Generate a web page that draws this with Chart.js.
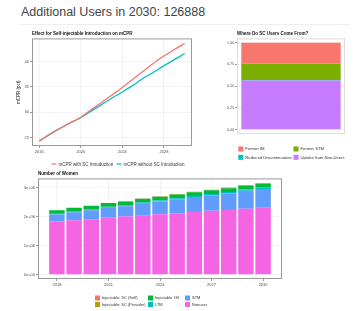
<!DOCTYPE html>
<html>
<head>
<meta charset="utf-8">
<script src="https://cdn.jsdelivr.net/npm/chart.js@4.4.1/dist/chart.umd.min.js"></script>
<style>
  body { margin: 0; width: 360px; height: 311px; background: #fff; position: relative; overflow: hidden;
         font-family: "Liberation Sans", Arial, sans-serif; }
  h3 { position: absolute; left: 21px; top: 5px; margin: 0; font-size: 12.5px; font-weight: normal; color: #444; }
  hr { position: absolute; left: 20px; top: 24px; width: 330px; margin: 0; border: 0; border-top: 1px solid #eee; }
  canvas { position: absolute; }
</style>
</head>
<body>
<h3>Additional Users in 2030: 126888</h3>
<hr>
<canvas id="mcpr" width="184" height="145" style="left:16px; top:26px;"></canvas>
<canvas id="sources" width="130" height="140" style="left:222px; top:26px;"></canvas>
<canvas id="women" width="280" height="143" style="left:15px; top:168px;"></canvas>
<script>
// mCPR chart
const years = [2016, 2017, 2018, 2019, 2020, 2021, 2022, 2023, 2024, 2025, 2026, 2027, 2028, 2029, 2030];
const mcprWithSC = [24.3, 25.6, 26.8, 27.9, 29.0, 30.5, 31.9, 33.4, 34.9, 36.5, 38.1, 39.7, 41.1, 42.4, 43.6];
const mcprWithoutSC = [24.3, 25.6, 26.8, 27.9, 28.9, 30.2, 31.5, 32.8, 34.0, 35.3, 36.7, 37.9, 39.2, 40.4, 41.6];
const mcprXTicks = [2016, 2020, 2024, 2028];
const mcprYTicks = [25, 30, 35, 40];

// where do SC users come from (stacked bottom to top)
const sourceLabels = ["Uptake from Non-Users", "Reduced Discontinuation", "Former STM", "Former IM"];
const sourceShares = [0.566, 0.004, 0.19, 0.24];
const shareTicks = [0, 0.25, 0.5, 0.75, 1];
const shareTickLabels = ["0.00", "0.25", "0.50", "0.75", "1.00"];

// number of women (stacked bottom to top)
const womenYears = [2018, 2019, 2020, 2021, 2022, 2023, 2024, 2025, 2026, 2027, 2028, 2029, 2030];
const nonUsers = [1830000, 1870000, 1910000, 1960000, 2000000, 2030000, 2080000, 2110000, 2160000, 2200000, 2230000, 2270000, 2300000];
const stmUsers = [240000, 280000, 310000, 347000, 359000, 416000, 443000, 485000, 512000, 539000, 571000, 618000, 655000];
const ltmUsers = [30000, 30000, 30000, 30000, 35000, 35000, 35000, 40000, 40000, 40000, 45000, 45000, 45000];
const imUsers = [120000, 120000, 120000, 130000, 130000, 130000, 130000, 130000, 130000, 130000, 130000, 130000, 130000];
const scProviderUsers = [0, 0, 0, 2000, 4000, 6000, 8000, 10000, 12000, 14000, 16000, 18000, 20000];
const scSelfUsers = [0, 0, 0, 1000, 2000, 3000, 4000, 5000, 6000, 7000, 8000, 9000, 10000];
const womenLabels = ["Nonuser", "STM", "LTM", "Injectable: IM", "Injectable: SC (Provider)", "Injectable: SC (Self)"];
const womenXTicks = [2018, 2021, 2024, 2027, 2030];
const womenYTicks = [0, 1000000, 2000000, 3000000];
const womenYTickLabels = ["0e+00", "1e+06", "2e+06", "3e+06"];

const FONT = "'Liberation Sans', Arial, sans-serif";
Chart.defaults.font.family = FONT;
Chart.defaults.animation = false;

// grey border round the plot panel, like ggplot
const panelFrame = {
    id: "panelFrame",
    afterDraw(chart, args, o) {
        const a = chart.chartArea, ctx = chart.ctx;
        ctx.save();
        ctx.strokeStyle = o.color;
        ctx.lineWidth = 1;
        ctx.strokeRect(a.left + 0.5, a.top + 0.5, a.right - a.left - 1, a.bottom - a.top - 1);
        ctx.restore();
    }
};

// legend laid out in a fixed grid below the panel
const gridLegend = {
    id: "gridLegend",
    afterDraw(chart, args, o) {
        const ctx = chart.ctx;
        let sets = chart.data.datasets.slice();
        if (o.reverse) sets.reverse();
        ctx.save();
        ctx.font = o.size + "px " + FONT;
        ctx.textBaseline = "middle";
        sets.forEach((ds, i) => {
            const col = o.byRow ? i % o.cols : Math.floor(i / o.rows);
            const row = o.byRow ? Math.floor(i / o.cols) : i % o.rows;
            const x = o.colX[col];
            const y = o.y + row * o.rowH;
            if (o.line) {
                ctx.strokeStyle = ds.borderColor;
                ctx.lineWidth = 1.2;
                ctx.beginPath();
                ctx.moveTo(x, y);
                ctx.lineTo(x + o.box, y);
                ctx.stroke();
            } else {
                ctx.fillStyle = ds.backgroundColor;
                ctx.fillRect(x, y - o.box / 2, o.box, o.box);
            }
            ctx.fillStyle = "#333";
            ctx.fillText(ds.label, x + o.box + 2, y + 0.3);
        });
        ctx.restore();
    }
};

function fixedTicks(values) {
    return scale => { scale.ticks = values.map(v => ({ value: v })); };
}

function titleOpts(text) {
    return {
        display: true, text: text, align: "start", fullSize: false, color: "#111",
        font: { size: 4.5 }, padding: { top: 5, bottom: 2 }
    };
}

const tickFont = { size: 4 };
const gridStyle = { color: "#ebebeb", lineWidth: 0.6, tickLength: 2, tickColor: "#555", offset: false };

new Chart(document.getElementById("mcpr"), {
    type: "line",
    data: {
        datasets: [
            { label: "mCPR with SC Introduction", data: years.map((y, i) => ({ x: y, y: mcprWithSC[i] })),
              borderColor: "#F8766D", borderWidth: 1.3, pointRadius: 0, tension: 0.2 },
            { label: "mCPR without SC Introduction", data: years.map((y, i) => ({ x: y, y: mcprWithoutSC[i] })),
              borderColor: "#00BFC4", borderWidth: 1.3, pointRadius: 0, tension: 0.2 }
        ]
    },
    options: {
        responsive: false,
        layout: { padding: { right: 8, bottom: 15 } },
        scales: {
            x: {
                type: "linear", min: 2015.3, max: 2030.7,
                afterBuildTicks: fixedTicks(mcprXTicks),
                afterFit: s => { s.height = 10; },
                ticks: { font: tickFont, color: "#4d4d4d", padding: 1, maxRotation: 0, callback: v => String(v) },
                grid: gridStyle, border: { display: false }
            },
            y: {
                min: 23.3, max: 44.6,
                afterBuildTicks: fixedTicks(mcprYTicks),
                afterFit: s => { s.width = 16; },
                ticks: { font: tickFont, color: "#4d4d4d", padding: 1, callback: v => String(v) },
                title: { display: true, text: "mCPR (pct)", font: { size: 4.5 }, color: "#222", padding: 0 },
                grid: gridStyle, border: { display: false }
            }
        },
        plugins: {
            legend: { display: false },
            tooltip: { enabled: false },
            title: titleOpts("Effect for Self-injectable Introduction on mCPR"),
            panelFrame: { color: "#999" },
            gridLegend: { line: true, size: 4.5, box: 5, byRow: true, cols: 2, rows: 1, colX: [35.5, 100.5], y: 138, rowH: 8 }
        }
    },
    plugins: [panelFrame, gridLegend]
});

const sourceColours = ["#C77CFF", "#00BFC4", "#7CAE00", "#F8766D"];
new Chart(document.getElementById("sources"), {
    type: "bar",
    data: {
        labels: [""],
        datasets: sourceLabels.map((l, i) => ({
            label: l, data: [sourceShares[i]], backgroundColor: sourceColours[i],
            barPercentage: 0.92, categoryPercentage: 1
        }))
    },
    options: {
        responsive: false,
        layout: { padding: { right: 7, bottom: 32 } },
        scales: {
            x: { stacked: true, display: false },
            y: {
                stacked: true, min: -0.05, max: 1.05,
                afterBuildTicks: fixedTicks(shareTicks),
                afterFit: s => { s.width = 15; },
                ticks: { font: { size: 3.6 }, color: "#4d4d4d", padding: 1, callback: (v, i) => shareTickLabels[i] },
                grid: gridStyle, border: { display: false }
            }
        },
        plugins: {
            legend: { display: false },
            tooltip: { enabled: false },
            title: titleOpts("Where Do SC Users Come From?"),
            panelFrame: { color: "#ddd" },
            gridLegend: { size: 4.2, box: 5, reverse: true, byRow: true, cols: 2, rows: 2, colX: [16.3, 71.5], y: 123, rowH: 8.3 }
        }
    },
    plugins: [panelFrame, gridLegend]
});

const womenSeries = [nonUsers, stmUsers, ltmUsers, imUsers, scProviderUsers, scSelfUsers];
const womenColours = ["#F564E3", "#619CFF", "#00BFC4", "#00BA38", "#B79F00", "#F8766D"];
new Chart(document.getElementById("women"), {
    type: "bar",
    data: {
        datasets: womenSeries.map((vals, i) => ({
            label: womenLabels[i],
            data: womenYears.map((y, j) => ({ x: y, y: vals[j] })),
            backgroundColor: womenColours[i], barPercentage: 0.9, categoryPercentage: 1
        }))
    },
    options: {
        responsive: false,
        layout: { padding: { right: 13, bottom: 24 } },
        scales: {
            x: {
                type: "linear", stacked: true, min: 2016.9, max: 2031.1, offset: false,
                afterBuildTicks: fixedTicks(womenXTicks),
                afterFit: s => { s.height = 8; },
                ticks: { font: tickFont, color: "#4d4d4d", padding: 1, maxRotation: 0, callback: v => String(v) },
                grid: gridStyle, border: { display: false }
            },
            y: {
                stacked: true, min: -158000, max: 3318000,
                afterBuildTicks: fixedTicks(womenYTicks),
                afterFit: s => { s.width = 23; },
                ticks: { font: tickFont, color: "#4d4d4d", padding: 1, callback: (v, i) => womenYTickLabels[i] },
                grid: gridStyle, border: { display: false }
            }
        },
        plugins: {
            legend: { display: false },
            tooltip: { enabled: false },
            title: Object.assign(titleOpts("Number of Women"), { padding: { top: 3, bottom: 2 } }),
            panelFrame: { color: "#999" },
            gridLegend: { size: 4, box: 5, reverse: true, byRow: false, cols: 3, rows: 2, colX: [80, 133, 170], y: 130, rowH: 6.5 }
        }
    },
    plugins: [panelFrame, gridLegend]
});
</script>
</body>
</html>
